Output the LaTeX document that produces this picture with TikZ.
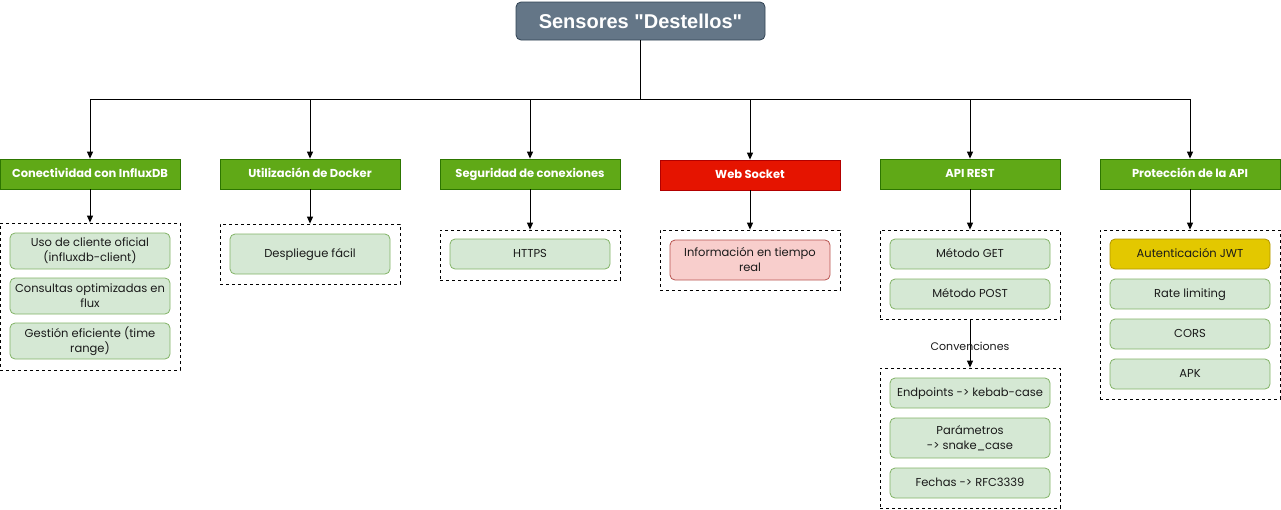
\documentclass[tikz,border=0pt]{standalone}
\usepackage{fontspec}
\setmainfont{Poppins}
\newfontfamily\titlefont{Liberation Sans}
\usetikzlibrary{arrows.meta}
\definecolor{titlefill}{HTML}{647687}
\definecolor{titledraw}{HTML}{314354}
\definecolor{hgreen}{HTML}{60A917}
\definecolor{hgreend}{HTML}{2D7600}
\definecolor{hred}{HTML}{E51400}
\definecolor{hredd}{HTML}{B20000}
\definecolor{igreen}{HTML}{D5E8D4}
\definecolor{igreend}{HTML}{82B366}
\definecolor{ired}{HTML}{F8CECC}
\definecolor{iredd}{HTML}{B85450}
\definecolor{iyel}{HTML}{E3C800}
\definecolor{iyeld}{HTML}{B09500}
\definecolor{txt}{HTML}{1A1A1A}
\tikzset{
  arr/.style={draw=black, line width=0.9pt, -{Triangle[length=7pt,width=6pt]}},
  hdr/.style={draw=hgreend, fill=hgreen, line width=0.8pt, minimum width=180pt, minimum height=30pt, inner sep=0pt, text=white, text height=8.5pt, text depth=2.5pt, font=\fontsize{11.5}{14}\selectfont\bfseries},
  hdrred/.style={hdr, draw=hredd, fill=hred},
  cont/.style={draw=black, line width=0.8pt, dash pattern=on 3pt off 3pt, minimum width=180pt, inner sep=0pt},
  item/.style={draw=igreend, fill=igreen, line width=0.8pt, rounded corners=5pt, minimum width=160pt, minimum height=30pt, inner sep=0pt, align=center, text=txt, font=\fontsize{11.5}{15}\selectfont},
  one/.style={text height=8.5pt, text depth=2.5pt},
  itemred/.style={item, draw=iredd, fill=ired},
  itemyel/.style={item, draw=iyeld, fill=iyel},
}
\begin{document}
\begin{tikzpicture}[x=1pt,y=-1pt]
\useasboundingbox (0,0) rectangle (1281,509);
% title
\node[draw=titledraw, fill=titlefill, line width=0.8pt, rounded corners=5pt, minimum width=249pt, minimum height=38pt, inner sep=0pt, text=white, font=\titlefont\fontsize{20}{22}\selectfont\bfseries] (title) at (640.5,21) {Sensores "Destellos"};
% headers
\node[hdr] (h1) at (90,174) {Conectividad con InfluxDB};
\node[hdr] (h2) at (310,174) {Utilización de Docker};
\node[hdr] (h3) at (530,174) {Seguridad de conexiones};
\node[hdrred] (h4) at (750,175) {Web Socket};
\node[hdr] (h5) at (970,174) {API REST};
\node[hdr] (h6) at (1190,174) {Protección de la API};
% containers
\node[cont, minimum height=147pt] (c1) at (90,296.5) {};
\node[cont, minimum height=60pt] (c2) at (310,254) {};
\node[cont, minimum height=50pt] (c3) at (530,255) {};
\node[cont, minimum height=60pt] (c4) at (750,260) {};
\node[cont, minimum height=89pt] (c5) at (970,274.5) {};
\node[cont, minimum height=140pt] (c5b) at (970,438) {};
\node[cont, minimum height=169pt] (c6) at (1190,314.5) {};
% items
\node[item, minimum height=36pt] (i11) at (90,251) {Uso de cliente oficial\\(influxdb-client)};
\node[item, minimum height=36pt] (i12) at (90,296) {Consultas optimizadas en\\flux};
\node[item, minimum height=36pt] (i13) at (90,341) {Gestión eficiente (time\\range)};
\node[item, one, minimum height=40pt] (i21) at (310,254) {Despliegue fácil};
\node[item, one] (i31) at (530,254) {HTTPS};
\node[itemred, minimum height=40pt] (i41) at (750,260) {Información en tiempo\\real};
\node[item, one] (i51) at (970,254) {Método GET};
\node[item, one] (i52) at (970,294) {Método POST};
\node[item, one] (i53) at (970,393) {Endpoints -{}> kebab-case};
\node[item, minimum height=40pt] (i54) at (970,438) {Parámetros\\-{}> snake\_case};
\node[item, one] (i55) at (970,483) {Fechas -{}> RFC3339};
\node[itemyel, one] (i61) at (1190,254) {Autenticación JWT};
\node[item, one] (i62) at (1190,294) {Rate limiting};
\node[item, one] (i63) at (1190,334) {CORS};
\node[item, one] (i64) at (1190,374) {APK};
% connectors
\foreach \h in {h1,h2,h3,h4,h5,h6}{
  \draw[arr] (title.south) -- ++(0,59) -| (\h.north);
}
\draw[arr] (h1.south) -- (c1.north);
\draw[arr] (h2.south) -- (c2.north);
\draw[arr] (h3.south) -- (c3.north);
\draw[arr] (h4.south) -- (c4.north);
\draw[arr] (h5.south) -- (c5.north);
\draw[arr] (h6.south) -- (c6.north);
\draw[arr] (c5.south) -- node[pos=0.55, inner sep=1pt, text=txt, font=\fontsize{11}{13}\selectfont] (lbl) {Convenciones} (c5b.north);
\end{tikzpicture}
\end{document}
